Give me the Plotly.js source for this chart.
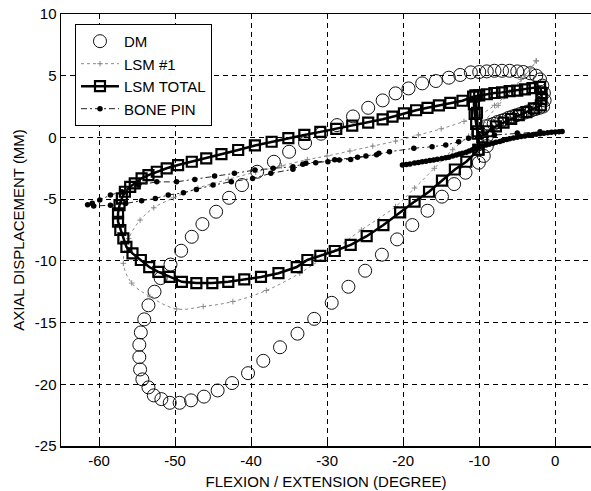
<!DOCTYPE html>
<html>
<head>
<meta charset="utf-8">
<script src="https://cdn.plot.ly/plotly-3.0.1.min.js"></script>
<style>html,body{margin:0;padding:0;background:#fff;}#chart{width:591px;height:491px;}</style>
</head>
<body>
<div id="chart"></div>
<script>
// ---- DM (open circles) ----
const dmX = [-3.3,-4.2,-5,-6,-7,-8,-9,-10,-11.1,-12.5,-14.0,-15.7,-17.5,-19.3,-21.0,-22.7,-24.6,-26.6,-28.7,-30.8,-32.9,-35.0,-37.0,-39.2,-41.2,-42.9,-44.6,-46.4,-47.8,-49.2,-50.6,-51.9,-52.7,-53.5,-54.05,-54.5,-54.7,-54.7,-54.6,-54.3,-53.5,-52.8,-51.8,-50.7,-49.4,-47.9,-46.2,-44.4,-42.5,-40.4,-38.4,-36.2,-33.9,-31.7,-29.4,-27.2,-25.0,-22.8,-20.8,-18.8,-16.8,-14.9,-13.3,-11.8,-10.05,-9.4,-9.0,-9.0,-9.1,-8.6,-8.1,-7.6,-7.1,-6.6,-6.1,-5.6,-5.1,-4.6,-4.1,-3.6,-3.1,-2.6,-2.1,-1.6,-1.4,-1.5,-1.7,-2.0,-2.5];
const dmY = [5.2,5.3,5.35,5.4,5.4,5.4,5.35,5.3,5.27,5.06,4.84,4.57,4.38,3.97,3.57,3.0,2.4,1.7,1.0,0.3,-0.45,-1.16,-1.97,-2.78,-3.86,-4.89,-6.02,-7.02,-8.05,-9.18,-10.3,-11.4,-12.5,-13.6,-14.74,-15.8,-16.8,-17.8,-18.8,-19.6,-20.25,-20.9,-21.2,-21.5,-21.5,-21.3,-21.0,-20.5,-19.9,-19.1,-18.1,-17.0,-15.9,-14.7,-13.4,-12.1,-10.8,-9.5,-8.26,-7.1,-5.94,-4.8,-3.78,-2.86,-2.05,-1.5,-0.7,0.1,0.9,1.0,1.1,1.25,1.35,1.45,1.6,1.7,1.8,1.9,2.0,2.1,2.2,2.3,2.4,2.5,3.0,3.6,4.2,4.7,5.0];

// ---- LSM #1 (gray dotted) ----
const lsm1X = [-2.5,-3.2,-4.5,-6,-8,-10,-12,-15,-18,-21,-24,-27,-30,-32.6,-36,-39.4,-43,-47,-50.2,-52.8,-54.6,-56.1,-56.8,-55.7,-53.3,-49.8,-46.3,-42.4,-38,-33.6,-29.5,-25.5,-21,-18.5,-15.9,-13.5,-11.4,-9.5,-7.5,-5.5,-4,-2.5];
const lsm1Y = [6.2,5.6,4.7,3.7,2.6,1.8,1.3,0.7,0.2,-0.3,-0.7,-1.1,-1.5,-1.8,-2.3,-2.8,-3.4,-4.1,-4.9,-5.7,-6.7,-8.2,-10.2,-11.8,-12.9,-13.9,-13.7,-13.3,-12.4,-11.0,-9.3,-7.5,-5.6,-4.1,-2.5,-1.0,0.1,1.2,2.6,3.9,5.0,6.2];

// ---- LSM TOTAL (squares with thick line) ----
const lsmTX = [-10.1,-11.7,-13.2,-14.9,-16.6,-18.5,-20.4,-22.6,-24.8,-26.9,-29.0,-30.9,-32.6,-34.0,-36.4,-38.7,-40.9,-43.0,-45.1,-47.2,-49.1,-50.7,-52.2,-53.4,-54.5,-55.6,-56.4,-56.8,-57.2,-57.5,-57.5,-57.3,-57.0,-56.6,-55.9,-55.3,-54.4,-53.5,-52.4,-51.1,-49.6,-47.8,-45.9,-43.9,-41.7,-39.5,-37.3,-35.1,-33.0,-30.9,-28.8,-26.7,-24.6,-22.7,-21.4,-19.9,-18.3,-16.8,-15.3,-13.8,-12.2,-10.8,-10.0,-9.0,-8.0,-7.0,-6.0,-5.0,-4.0,-3.0,-2.0,-1.8,-1.8,-1.9,-2.8,-3.8,-4.8,-5.8,-6.8,-7.8,-8.8,-9.6,-10.2,-10.4,-10.6,-10.7,-10.5,-10.3,-10.2,-10.1];
const lsmTY = [-1.0,-1.97,-2.6,-3.5,-4.4,-5.2,-6.07,-7.1,-8.0,-8.7,-9.2,-9.6,-9.93,-10.5,-11.0,-11.3,-11.5,-11.7,-11.8,-11.8,-11.7,-11.3,-10.9,-10.5,-9.93,-9.4,-8.86,-8.18,-7.5,-6.83,-6.15,-5.48,-4.94,-4.4,-4.0,-3.72,-3.31,-3.05,-2.78,-2.5,-2.24,-1.97,-1.7,-1.35,-1.02,-0.65,-0.35,-0.05,0.2,0.45,0.7,0.95,1.2,1.47,1.68,1.95,2.2,2.4,2.6,2.8,2.97,3.3,3.4,3.5,3.6,3.65,3.75,3.8,3.9,4.0,4.1,3.6,3.1,2.6,2.35,2.05,1.8,1.5,1.2,0.9,0.5,0.0,0.3,1.1,1.9,2.7,3.4,2.0,0.5,-1.0];

// ---- BONE PIN (dots, dash-dot line) ----
const boneX = [-20.1,-19.6,-19.1,-18.5,-18.0,-17.5,-17.0,-16.5,-16.0,-15.5,-14.9,-14.4,-14,-13.5,-13,-12.6,-12.2,-11.7,-11.3,-10.9,-10.5,-10.0,-9.6,-9.1,-8.7,-8.2,-7.8,-7.3,-6.9,-6.4,-6,-5.5,-5,-4.5,-4,-3.5,-3,-2.5,-2,-1.5,-1,-0.5,0,0.5,0.9,-2,-5,-8,-10,-11.4,-12.7,-14.4,-16.2,-18.6,-21.8,-23.5,-26,-29,-32.8,-34.5,-37.1,-39.5,-42.2,-44.8,-47.4,-49.8,-52.4,-54.8,-57,-58.5,-59.9,-60.9,-61.5,-60.7,-58.5,-56.5,-54.4,-52.6,-50.9,-48.9,-47.2,-45,-42.6,-39.8,-37.4,-34.5,-33.2,-31.5,-29.9,-28.4,-26.9,-24.9,-23.2];
const boneY = [-2.24,-2.2,-2.15,-2.08,-2.03,-1.97,-1.92,-1.87,-1.82,-1.77,-1.7,-1.65,-1.6,-1.5,-1.42,-1.35,-1.29,-1.2,-1.1,-1.0,-0.9,-0.8,-0.7,-0.62,-0.55,-0.47,-0.4,-0.32,-0.25,-0.17,-0.1,-0.04,0.02,0.07,0.12,0.17,0.22,0.26,0.3,0.34,0.38,0.41,0.43,0.46,0.48,0.45,0.35,0.2,0.05,-0.07,-0.35,-0.62,-0.75,-0.88,-1.16,-1.4,-1.6,-1.8,-2.1,-2.37,-2.5,-2.64,-2.91,-3.13,-3.4,-3.6,-3.6,-3.86,-4.4,-4.67,-5.07,-5.34,-5.45,-5.55,-5.5,-5.35,-5.13,-4.94,-4.67,-4.48,-4.21,-3.86,-3.59,-3.32,-2.91,-2.58,-2.18,-2.05,-1.97,-1.83,-1.78,-1.51,-1.29];

const xTicks = [-60,-50,-40,-30,-20,-10,0];
const yTicks = [-25,-20,-15,-10,-5,0,5,10];

const FONT = 'Liberation Sans, Arial, sans-serif';

const traces = [
  {x: dmX, y: dmY, name: 'DM', mode: 'markers', type: 'scatter',
   marker: {symbol: 'circle-open', size: 13, color: '#111', line: {width: 1, color: '#111'}}},
  {x: lsm1X, y: lsm1Y, name: 'LSM #1', mode: 'lines+markers', type: 'scatter',
   line: {color: '#8a8a8a', width: 1, dash: 'dot', shape: 'spline'},
   marker: {symbol: 'cross-thin-open', size: 4, color: '#8a8a8a', line: {width: 1, color: '#8a8a8a'}}},
  {x: lsmTX, y: lsmTY, name: 'LSM TOTAL', mode: 'lines+markers', type: 'scatter',
   line: {color: '#000', width: 2.5},
   marker: {symbol: 'square-open', size: 10, color: '#000', line: {width: 2.2, color: '#000'}}},
  {x: boneX, y: boneY, name: 'BONE PIN', mode: 'lines+markers', type: 'scatter',
   line: {color: '#222', width: 1, dash: '6px,3px,2px,3px'},
   marker: {symbol: 'circle', size: 5.5, color: '#000'}}
];

const layout = {
  width: 591, height: 491,
  margin: {l: 61, r: 0, t: 14, b: 45},
  paper_bgcolor: '#fff', plot_bgcolor: '#fff',
  font: {family: FONT, size: 15, color: '#000'},
  showlegend: true,
  legend: {x: 0.0264, y: 0.977, xanchor: 'left', yanchor: 'top',
           bgcolor: '#fff', bordercolor: '#000', borderwidth: 1, itemwidth: 38,
           font: {family: FONT, size: 15, color: '#000'}, tracegroupgap: 0},
  xaxis: {range: [-65, 4.7], tickvals: xTicks, ticktext: xTicks.map(String),
          showgrid: true, gridcolor: '#000', gridwidth: 1, griddash: '5px,4px',
          zeroline: false, showline: true, linecolor: '#000', linewidth: 1.5, mirror: 'ticks',
          ticks: 'inside', ticklen: 5, tickcolor: '#000',
          tickfont: {family: FONT, size: 15, color: '#000'},
          title: {text: 'FLEXION / EXTENSION (DEGREE)', font: {family: FONT, size: 15, color: '#000'}, standoff: 9}},
  yaxis: {range: [-25, 10], tickvals: yTicks, ticktext: yTicks.map(String),
          showgrid: true, gridcolor: '#000', gridwidth: 1, griddash: '5px,4px',
          zeroline: false, showline: true, linecolor: '#000', linewidth: 1.5, mirror: false,
          ticks: 'inside', ticklen: 5, tickcolor: '#000',
          tickfont: {family: FONT, size: 15, color: '#000'},
          title: {text: 'AXIAL DISPLACEMENT (MM)', font: {family: FONT, size: 15, color: '#000'}, standoff: 6}}
};

Plotly.newPlot('chart', traces, layout, {displayModeBar: false, staticPlot: true});
</script>
</body>
</html>
